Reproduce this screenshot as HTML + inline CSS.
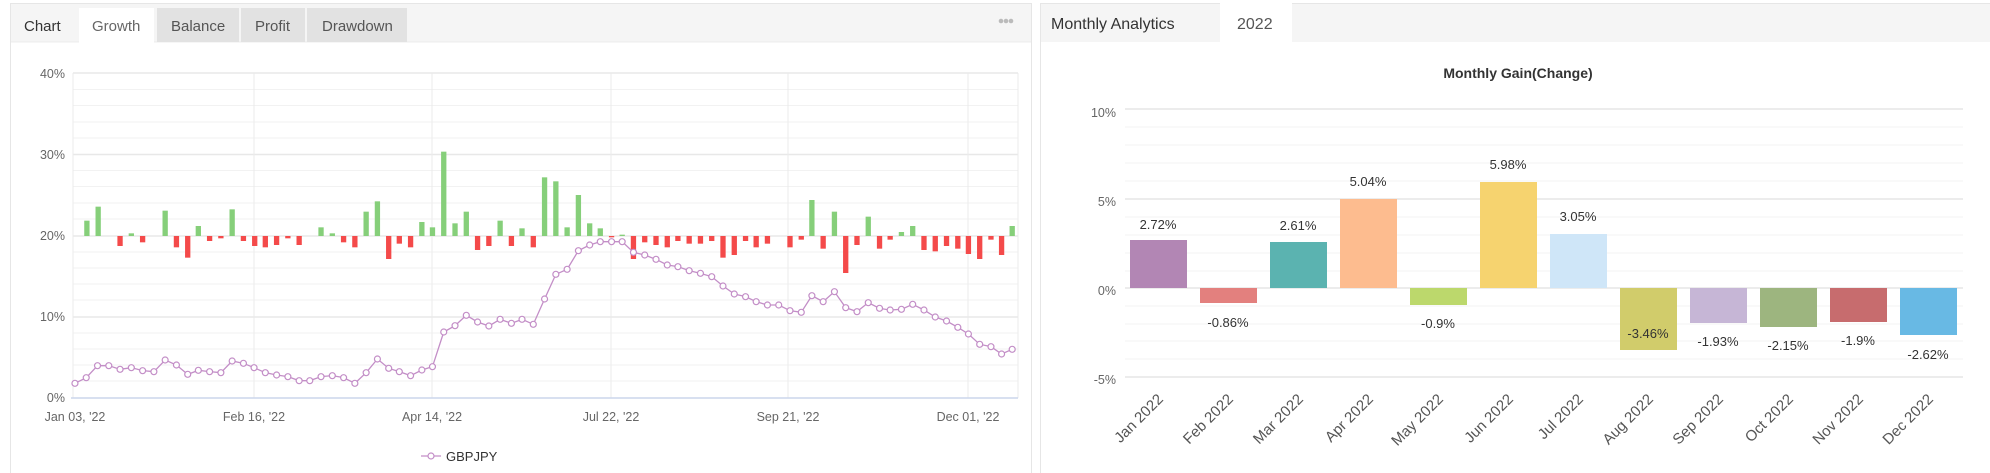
<!DOCTYPE html>
<html><head><meta charset="utf-8"><style>
body{margin:0;width:1990px;height:473px;background:#fff;overflow:hidden;font-family:"Liberation Sans",sans-serif;}
svg{position:absolute;left:0;top:0}
</style></head><body>
<svg width="1990" height="473" viewBox="0 0 1990 473" font-family="Liberation Sans, sans-serif">
<!-- Left panel -->
<rect x="10.5" y="3.5" width="1021" height="480" fill="#fff" stroke="#e6e6e6"/>
<rect x="11" y="4" width="1020" height="38" fill="#f5f5f5"/>
<line x1="11" y1="42" x2="1031" y2="42" stroke="#ececec"/>
<rect x="79" y="8" width="75" height="35" fill="#fff"/>
<rect x="157" y="8" width="82" height="34" fill="#e2e2e2"/>
<rect x="241" y="8" width="64" height="34" fill="#e2e2e2"/>
<rect x="307" y="8" width="100" height="34" fill="#e2e2e2"/>
<g font-size="15" fill="#555">
<text x="24" y="31" fill="#333">Chart</text>
<text x="92" y="31" fill="#666">Growth</text>
<text x="171" y="31">Balance</text>
<text x="255" y="31">Profit</text>
<text x="322" y="31">Drawdown</text>
</g>
<g fill="#bbb"><circle cx="1001" cy="21" r="2.3"/><circle cx="1006" cy="21" r="2.3"/><circle cx="1011" cy="21" r="2.3"/></g>
<!-- grid -->
<g stroke="#f2f2f2" stroke-width="1">
<line x1="73" y1="89.5" x2="1018" y2="89.5"/><line x1="73" y1="105.5" x2="1018" y2="105.5"/><line x1="73" y1="122" x2="1018" y2="122"/><line x1="73" y1="138" x2="1018" y2="138"/>
<line x1="73" y1="170.5" x2="1018" y2="170.5"/><line x1="73" y1="186.5" x2="1018" y2="186.5"/><line x1="73" y1="203" x2="1018" y2="203"/><line x1="73" y1="219" x2="1018" y2="219"/>
<line x1="73" y1="252" x2="1018" y2="252"/><line x1="73" y1="268" x2="1018" y2="268"/><line x1="73" y1="284" x2="1018" y2="284"/><line x1="73" y1="300" x2="1018" y2="300"/>
<line x1="73" y1="333" x2="1018" y2="333"/><line x1="73" y1="349" x2="1018" y2="349"/><line x1="73" y1="365" x2="1018" y2="365"/><line x1="73" y1="381" x2="1018" y2="381"/>
</g>
<g stroke="#e8e8e8" stroke-width="1.5">
<line x1="73" y1="73" x2="1018" y2="73"/><line x1="73" y1="154.5" x2="1018" y2="154.5"/><line x1="73" y1="236" x2="1018" y2="236"/><line x1="73" y1="317" x2="1018" y2="317"/>
</g>
<g stroke="#ebebeb" stroke-width="1">
<line x1="73" y1="73" x2="73" y2="398"/><line x1="254" y1="73" x2="254" y2="398"/><line x1="432" y1="73" x2="432" y2="398"/><line x1="611" y1="73" x2="611" y2="398"/><line x1="788" y1="73" x2="788" y2="398"/><line x1="968" y1="73" x2="968" y2="398"/><line x1="1018" y1="73" x2="1018" y2="398"/>
</g>
<line x1="71" y1="398" x2="1018" y2="398" stroke="#ccd6eb" stroke-width="1.5"/>
<g font-size="12.5" fill="#666" text-anchor="end">
<text x="65" y="78">40%</text><text x="65" y="159">30%</text><text x="65" y="240">20%</text><text x="65" y="321">10%</text><text x="65" y="402">0%</text>
</g>
<g font-size="12.5" fill="#666" text-anchor="middle">
<text x="75" y="421">Jan 03, '22</text><text x="254" y="421">Feb 16, '22</text><text x="432" y="421">Apr 14, '22</text><text x="611" y="421">Jul 22, '22</text><text x="788" y="421">Sep 21, '22</text><text x="968" y="421">Dec 01, '22</text>
</g>
<g transform="scale(0.6633,0.33333)">
<g fill="#86cf7a">
<rect x="127" y="662" width="8" height="46"/><rect x="144" y="620" width="8" height="88"/><rect x="194" y="700" width="8" height="8"/><rect x="245" y="632" width="8" height="76"/><rect x="295" y="678" width="8" height="30"/><rect x="346" y="628" width="8" height="80"/><rect x="480" y="682" width="8" height="26"/><rect x="497" y="700" width="8" height="8"/><rect x="548" y="635" width="8" height="73"/><rect x="565" y="604" width="8" height="104"/><rect x="632" y="666" width="8" height="42"/><rect x="648" y="682" width="8" height="26"/><rect x="665" y="455" width="8" height="253"/><rect x="682" y="670" width="8" height="38"/><rect x="699" y="635" width="8" height="73"/><rect x="750" y="662" width="8" height="46"/><rect x="783" y="685" width="8" height="23"/><rect x="817" y="532" width="8" height="176"/><rect x="834" y="544" width="8" height="164"/><rect x="851" y="682" width="8" height="26"/><rect x="868" y="585" width="8" height="123"/><rect x="885" y="670" width="8" height="38"/><rect x="901" y="685" width="8" height="23"/><rect x="934" y="704" width="8" height="4"/><rect x="1220" y="600" width="8" height="108"/><rect x="1254" y="635" width="8" height="73"/><rect x="1305" y="650" width="8" height="58"/><rect x="1355" y="696" width="8" height="12"/><rect x="1372" y="678" width="8" height="30"/><rect x="1522" y="678" width="8" height="30"/>
</g>
<g fill="#f44a4a">
<rect x="177" y="708" width="8" height="30"/><rect x="211" y="708" width="8" height="19"/><rect x="262" y="708" width="8" height="34"/><rect x="279" y="708" width="8" height="65"/><rect x="312" y="708" width="8" height="15"/><rect x="329" y="708" width="8" height="7"/><rect x="363" y="708" width="8" height="15"/><rect x="380" y="708" width="8" height="30"/><rect x="396" y="708" width="8" height="34"/><rect x="413" y="708" width="8" height="27"/><rect x="430" y="708" width="8" height="7"/><rect x="447" y="708" width="8" height="27"/><rect x="514" y="708" width="8" height="19"/><rect x="531" y="708" width="8" height="34"/><rect x="582" y="708" width="8" height="69"/><rect x="598" y="708" width="8" height="23"/><rect x="615" y="708" width="8" height="34"/><rect x="716" y="708" width="8" height="42"/><rect x="733" y="708" width="8" height="30"/><rect x="767" y="708" width="8" height="30"/><rect x="800" y="708" width="8" height="34"/><rect x="918" y="708" width="8" height="4"/><rect x="951" y="708" width="8" height="69"/><rect x="968" y="708" width="8" height="19"/><rect x="985" y="708" width="8" height="27"/><rect x="1002" y="708" width="8" height="34"/><rect x="1018" y="708" width="8" height="15"/><rect x="1035" y="708" width="8" height="23"/><rect x="1052" y="708" width="8" height="23"/><rect x="1069" y="708" width="8" height="15"/><rect x="1086" y="708" width="8" height="65"/><rect x="1103" y="708" width="8" height="57"/><rect x="1120" y="708" width="8" height="15"/><rect x="1136" y="708" width="8" height="34"/><rect x="1153" y="708" width="8" height="23"/><rect x="1187" y="708" width="8" height="34"/><rect x="1204" y="708" width="8" height="11"/><rect x="1237" y="708" width="8" height="38"/><rect x="1271" y="708" width="8" height="111"/><rect x="1288" y="708" width="8" height="27"/><rect x="1322" y="708" width="8" height="38"/><rect x="1338" y="708" width="8" height="11"/><rect x="1389" y="708" width="8" height="42"/><rect x="1406" y="708" width="8" height="46"/><rect x="1423" y="708" width="8" height="30"/><rect x="1440" y="708" width="8" height="38"/><rect x="1456" y="708" width="8" height="54"/><rect x="1473" y="708" width="8" height="69"/><rect x="1490" y="708" width="8" height="11"/><rect x="1506" y="708" width="8" height="57"/>
</g>
<polyline fill="none" stroke="#c38ec7" stroke-width="1.3" vector-effect="non-scaling-stroke" points="113,1150 130,1133 147,1097 164,1097 181,1108 198,1103 215,1112 232,1115 249,1080 266,1095 283,1123 299,1111 316,1115 333,1118 350,1083 367,1090 383,1103 400,1118 417,1125 434,1130 451,1142 467,1142 484,1130 501,1127 518,1133 535,1150 552,1118 569,1077 586,1105 602,1115 619,1127 636,1110 652,1100 669,996 686,977 703,946 720,966 737,978 754,958 771,970 787,958 804,973 821,897 838,823 855,808 872,752 889,735 905,725 922,725 938,725 955,757 972,765 989,778 1006,795 1022,800 1039,812 1056,820 1073,830 1090,858 1107,882 1124,890 1140,905 1157,915 1174,915 1191,932 1208,937 1224,887 1241,905 1258,875 1275,923 1292,935 1309,908 1326,925 1342,930 1359,928 1376,913 1393,930 1410,951 1427,963 1444,982 1460,1002 1477,1033 1494,1040 1510,1062 1526,1048"/>
<g id="pts" fill="#fff" stroke="#c38ec7" stroke-width="1.2" vector-effect="non-scaling-stroke"></g>
</g>
<line x1="421" y1="456" x2="441" y2="456" stroke="#c38ec7" stroke-width="1.3"/><circle cx="431" cy="456" r="3" fill="#fff" stroke="#c38ec7" stroke-width="1.2"/>
<text x="446" y="461" font-size="13" fill="#333">GBPJPY</text>

<!-- Right panel -->
<rect x="1040.5" y="3.5" width="960" height="480" fill="#fff" stroke="#e6e6e6"/>
<rect x="1041" y="4" width="949" height="38" fill="#f5f5f5"/>
<rect x="1220" y="3" width="72" height="40" fill="#fff"/>
<text x="1051" y="29" font-size="16" fill="#333">Monthly Analytics</text>
<text x="1237" y="29" font-size="16" fill="#555">2022</text>
<text x="1518" y="78" font-size="14" font-weight="bold" fill="#333" text-anchor="middle">Monthly Gain(Change)</text>
<g stroke="#f3f3f3">
<line x1="1125" y1="127" x2="1963" y2="127"/><line x1="1125" y1="145" x2="1963" y2="145"/><line x1="1125" y1="163" x2="1963" y2="163"/><line x1="1125" y1="181" x2="1963" y2="181"/>
<line x1="1125" y1="217" x2="1963" y2="217"/><line x1="1125" y1="235" x2="1963" y2="235"/><line x1="1125" y1="253" x2="1963" y2="253"/><line x1="1125" y1="271" x2="1963" y2="271"/>
<line x1="1125" y1="306" x2="1963" y2="306"/><line x1="1125" y1="324" x2="1963" y2="324"/><line x1="1125" y1="341" x2="1963" y2="341"/><line x1="1125" y1="359" x2="1963" y2="359"/>
</g>
<g stroke="#e6e6e6" stroke-width="1.5">
<line x1="1125" y1="109" x2="1963" y2="109"/><line x1="1125" y1="199" x2="1963" y2="199"/><line x1="1125" y1="288" x2="1963" y2="288"/><line x1="1125" y1="377" x2="1963" y2="377"/>
</g>
<g font-size="12.5" fill="#666" text-anchor="end">
<text x="1116" y="117">10%</text><text x="1116" y="206">5%</text><text x="1116" y="295">0%</text><text x="1116" y="384">-5%</text>
</g>
<g>
<rect x="1130" y="240" width="57" height="48" fill="#b286b4"/>
<rect x="1200" y="288" width="57" height="15" fill="#e3807e"/>
<rect x="1270" y="242" width="57" height="46" fill="#5bb3b0"/>
<rect x="1340" y="199" width="57" height="89" fill="#fdbc8f"/>
<rect x="1410" y="288" width="57" height="17" fill="#bcd86c"/>
<rect x="1480" y="182" width="57" height="106" fill="#f6d36f"/>
<rect x="1550" y="234" width="57" height="54" fill="#cfe6f8"/>
<rect x="1620" y="288" width="57" height="62" fill="#d1cc6b"/>
<rect x="1690" y="288" width="57" height="35" fill="#c6b6d6"/>
<rect x="1760" y="288" width="57" height="39" fill="#9db57f"/>
<rect x="1830" y="288" width="57" height="34" fill="#c76c6e"/>
<rect x="1900" y="288" width="57" height="47" fill="#68b9e4"/>
</g>
<g font-size="13" fill="#333" text-anchor="middle">
<text x="1158" y="229">2.72%</text><text x="1228" y="327">-0.86%</text><text x="1298" y="230">2.61%</text><text x="1368" y="186">5.04%</text><text x="1438" y="328">-0.9%</text><text x="1508" y="169">5.98%</text><text x="1578" y="221">3.05%</text><text x="1648" y="338">-3.46%</text><text x="1718" y="346">-1.93%</text><text x="1788" y="350">-2.15%</text><text x="1858" y="345">-1.9%</text><text x="1928" y="359">-2.62%</text>
</g>
<g font-size="15" fill="#555" text-anchor="end">
<text transform="translate(1164,400) rotate(-45)">Jan 2022</text>
<text transform="translate(1234,400) rotate(-45)">Feb 2022</text>
<text transform="translate(1304,400) rotate(-45)">Mar 2022</text>
<text transform="translate(1374,400) rotate(-45)">Apr 2022</text>
<text transform="translate(1444,400) rotate(-45)">May 2022</text>
<text transform="translate(1514,400) rotate(-45)">Jun 2022</text>
<text transform="translate(1584,400) rotate(-45)">Jul 2022</text>
<text transform="translate(1654,400) rotate(-45)">Aug 2022</text>
<text transform="translate(1724,400) rotate(-45)">Sep 2022</text>
<text transform="translate(1794,400) rotate(-45)">Oct 2022</text>
<text transform="translate(1864,400) rotate(-45)">Nov 2022</text>
<text transform="translate(1934,400) rotate(-45)">Dec 2022</text>
</g>
</svg>
<script>
var p="113,1150 130,1133 147,1097 164,1097 181,1108 198,1103 215,1112 232,1115 249,1080 266,1095 283,1123 299,1111 316,1115 333,1118 350,1083 367,1090 383,1103 400,1118 417,1125 434,1130 451,1142 467,1142 484,1130 501,1127 518,1133 535,1150 552,1118 569,1077 586,1105 602,1115 619,1127 636,1110 652,1100 669,996 686,977 703,946 720,966 737,978 754,958 771,970 787,958 804,973 821,897 838,823 855,808 872,752 889,735 905,725 922,725 938,725 955,757 972,765 989,778 1006,795 1022,800 1039,812 1056,820 1073,830 1090,858 1107,882 1124,890 1140,905 1157,915 1174,915 1191,932 1208,937 1224,887 1241,905 1258,875 1275,923 1292,935 1309,908 1326,925 1342,930 1359,928 1376,913 1393,930 1410,951 1427,963 1444,982 1460,1002 1477,1033 1494,1040 1510,1062 1526,1048".split(" ");
var g=document.getElementById("pts"),s="";
p.forEach(function(q){var a=q.split(",");s+='<ellipse cx="'+a[0]+'" cy="'+a[1]+'" rx="4.5" ry="9" vector-effect="non-scaling-stroke"/>';});
g.innerHTML=s;
</script>
</body></html>
